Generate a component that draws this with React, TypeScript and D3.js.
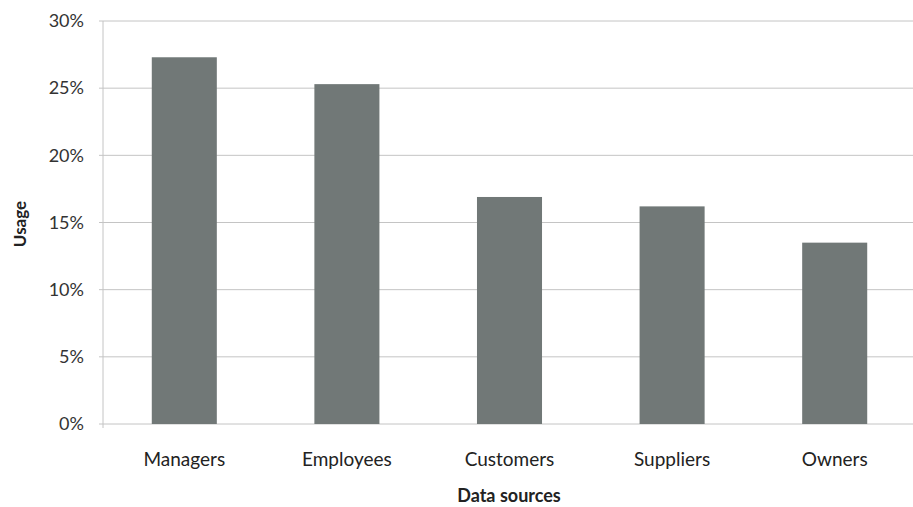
import React from "react";
import * as d3 from "d3";

const categories = ["Managers", "Employees", "Customers", "Suppliers", "Owners"];
const usage = [27.3, 25.3, 16.9, 16.2, 13.5];
const yTicks = [0, 5, 10, 15, 20, 25, 30];

const W = 913;
const H = 507;
const margin = { left: 103, right: -3, top: 21, bottom: 83 };

export default function App() {
  const x = d3
    .scaleBand<string>()
    .domain(categories)
    .range([margin.left, W - margin.right])
    .paddingInner(0.6)
    .paddingOuter(0.3);
  const y = d3
    .scaleLinear()
    .domain([0, 30])
    .range([H - margin.bottom, margin.top]);
  const font = "Lato, 'Open Sans', sans-serif";
  return (
    <svg
      width={W}
      height={H}
      style={{ position: "absolute", left: 0, top: 0, background: "#fff" }}
    >
      {yTicks.map((t) => (
        <g key={t}>
          <line
            x1={margin.left - 4}
            x2={W}
            y1={y(t)}
            y2={y(t)}
            stroke="#c4c4c4"
            strokeWidth={1}
          />
          <text
            x={margin.left - 19}
            y={y(t)}
            dy="0.35em"
            textAnchor="end"
            fontFamily={font}
            fontSize={18}
            fill="#333"
          >
            {t}%
          </text>
        </g>
      ))}
      <line
        x1={margin.left}
        x2={margin.left}
        y1={y(30)}
        y2={y(0) + 4}
        stroke="#c4c4c4"
      />
      {categories.map((c, i) => (
        <g key={c}>
          <rect
            x={x(c)}
            y={y(usage[i])}
            width={x.bandwidth()}
            height={y(0) - y(usage[i])}
            fill="#717877"
          />
          <text
            x={(x(c) as number) + x.bandwidth() / 2}
            y={466}
            textAnchor="middle"
            fontFamily={font}
            fontSize={19}
            fill="#222"
          >
            {c}
          </text>
        </g>
      ))}
      <text
        x={509}
        y={502}
        textAnchor="middle"
        fontFamily={font}
        fontSize={18}
        fontWeight="bold"
        fill="#222"
      >
        Data sources
      </text>
      <text
        transform={`translate(26, 224) rotate(-90)`}
        textAnchor="middle"
        fontFamily={font}
        fontSize={17}
        fontWeight="bold"
        fill="#222"
      >
        Usage
      </text>
    </svg>
  );
}
